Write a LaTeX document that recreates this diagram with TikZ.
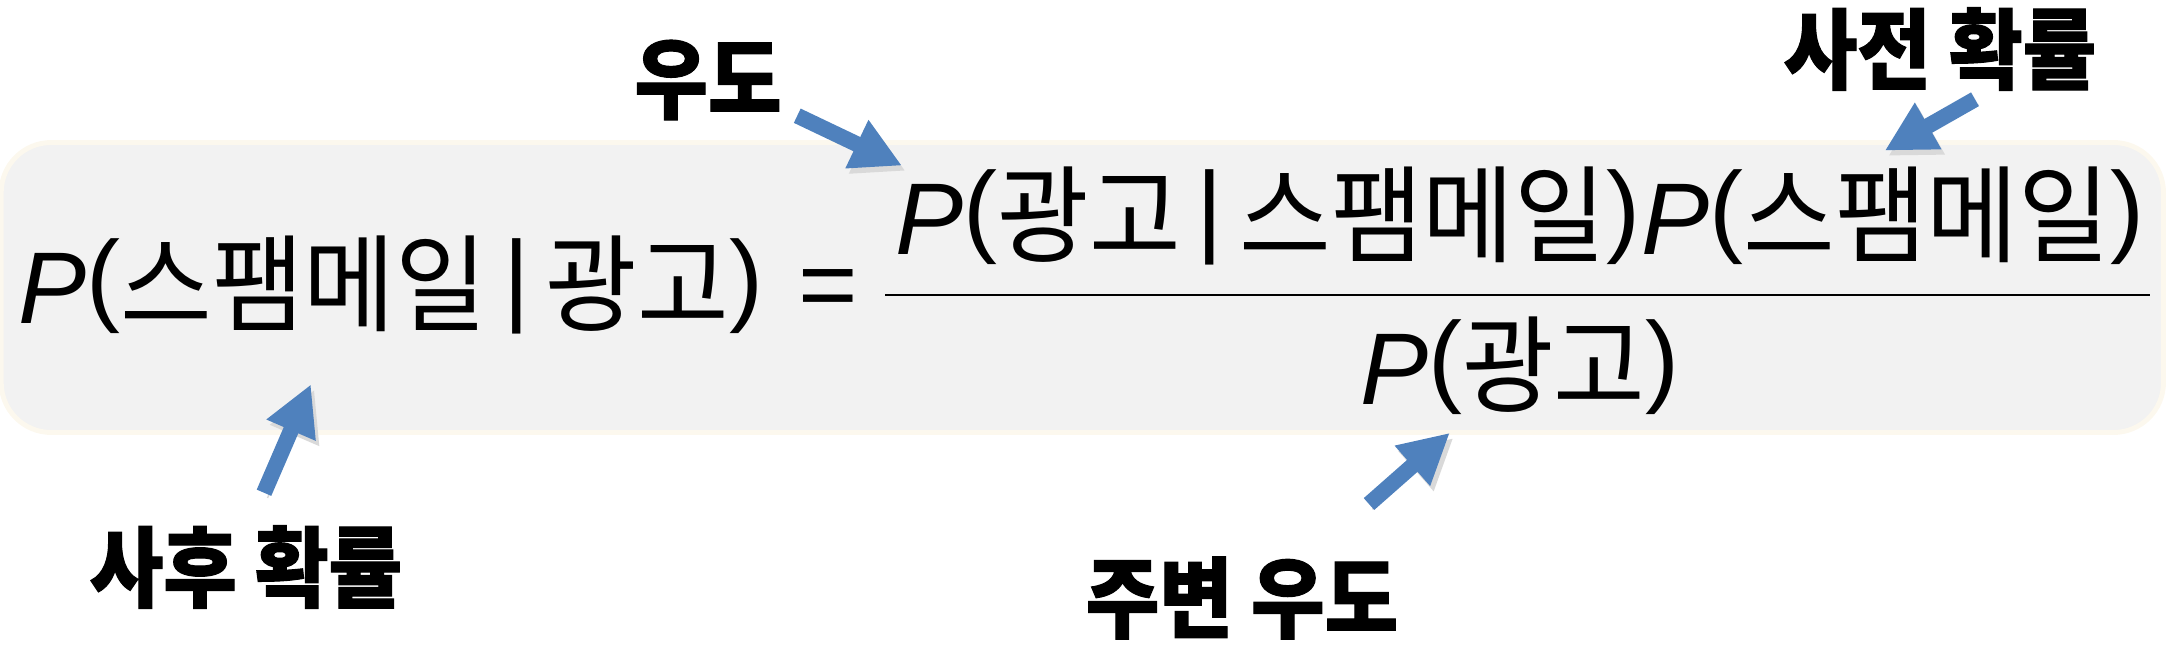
\documentclass[tikz,border=0pt]{standalone}
\usepackage{fontspec}
\setmainfont{Liberation Sans}
\newfontfamily\kr[Scale=1.04,FakeStretch=0.94]{Noto Sans CJK KR}
\newfontfamily\krlabel[FakeStretch=0.91,BoldFeatures={FakeBold=1.2}]{Noto Sans CJK KR}
\usetikzlibrary{arrows.meta,positioning,calc}
\definecolor{callblue}{HTML}{4F81BD}
\definecolor{boxgray}{HTML}{F2F2F2}
\definecolor{boxrim}{HTML}{FCF8EE}
\newcommand\dlim[1]{\raisebox{1.1mm}{\rmfamily #1}}
\newcommand\pr[1]{{\itshape P}\dlim{(}#1\dlim{)}}
\newcommand\given{\hspace{1.6mm}\dlim{|}\hspace{1.6mm}}

\begin{document}
\begin{tikzpicture}[
  formula/.style={inner sep=0pt, font=\fontsize{29}{34}\selectfont},
  lbl/.style={inner sep=0pt, font=\krlabel\bfseries\fontsize{25}{30}\selectfont},
  callout/.style={draw=callblue, line width=4.5pt,
    -{Triangle[width=5mm,length=5mm]},
    preaction={draw=black!15, transform canvas={shift={(1pt,-1.5pt)}}}},
  fracbar/.style={line width=0.85pt}]
\useasboundingbox (0,0) rectangle (21.70,6.46);
\draw[fill=boxgray, draw=boxrim, line width=1.4pt, rounded corners=0.5cm]
  (0.012,2.135) rectangle (21.635,5.035);

\node[formula, anchor=base west] (post) at (0.18,3.23) {\pr{\kr 스팸메일\given 광고}};
\node[formula] (eq) at (8.28,3.51) {=};
\node[formula, anchor=base west] (lik) at (8.95,3.92) {\pr{\kr 광고\given 스팸메일}};
\node[formula, anchor=base west] (prior) at (lik.base east) {\pr{\kr 스팸메일}};
\coordinate (fracmid) at ($(lik.west)!0.5!(prior.east)$);
\node[formula, anchor=base] (marg) at (fracmid |- 0,2.42) {\pr{\kr 광고}};
\draw[fracbar] ([xshift=-1mm]lik.west |- eq.center) -- ([xshift=0.5mm]prior.east |- eq.center);

\node[lbl] (likl) at (7.08,5.66) {우도};
\node[lbl] (priorl) at (19.40,5.97) {사전 확률};
\node[lbl] (postl) at (2.46,0.79) {사후 확률};
\node[lbl] (margl) at (12.42,0.48) {주변 우도};

\draw[callout] ([shift={(0.15,0.05)}]likl.south east) -- ([shift={(0.07,0)}]lik.north west);
\draw[callout] ([shift={(0.35,-0.08)}]priorl.south) -- ([shift={(-0.08,0.15)}]prior.north);
\draw[callout] ([shift={(0.18,0.32)}]postl.north) -- ([shift={(-0.8,-0.5)}]post.south);
\draw[callout] ([shift={(-0.3,0.52)}]margl.north east) -- ([shift={(-0.7,-0.18)}]marg.south);
\end{tikzpicture}
\end{document}
